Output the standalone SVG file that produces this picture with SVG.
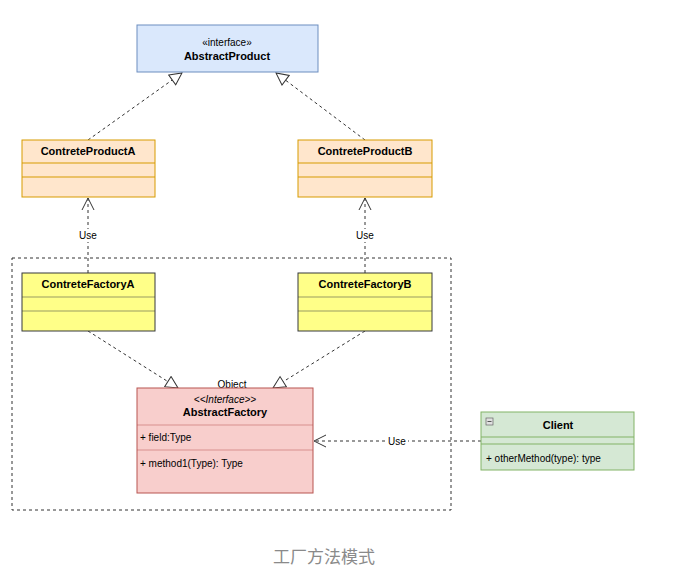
<svg xmlns="http://www.w3.org/2000/svg" width="677" height="576" viewBox="0 0 677 576">
<style>
text{font-family:"Liberation Sans",Arial,sans-serif;fill:#000}
.b{font-weight:bold;font-size:11px}
.s{font-size:10px}
.e{fill:none;stroke:#333;stroke-width:1;stroke-dasharray:3,3}
</style>
<defs>
<marker id="tri" markerWidth="14" markerHeight="14" refX="13" refY="7" orient="auto" markerUnits="userSpaceOnUse">
<path d="M1,1 L13,7 L1,13 Z" fill="#fff" stroke="#333" stroke-width="1"/>
</marker>
<marker id="open" markerWidth="14" markerHeight="14" refX="13" refY="7" orient="auto" markerUnits="userSpaceOnUse">
<path d="M1,1 L13,7 L1,13" fill="none" stroke="#333" stroke-width="1"/>
</marker>
</defs>
<rect width="677" height="576" fill="#fff"/>
<rect x="12" y="258" width="439" height="252" fill="none" stroke="#333" stroke-dasharray="3,3"/>
<g id="connectors">
<line class="e" x1="88" y1="140" x2="182" y2="73" marker-end="url(#tri)"/>
<line class="e" x1="365" y1="140" x2="276" y2="73" marker-end="url(#tri)"/>
<line class="e" x1="88" y1="331" x2="178" y2="388" marker-end="url(#tri)"/>
<line class="e" x1="365" y1="331" x2="273" y2="388" marker-end="url(#tri)"/>
<line class="e" x1="88" y1="273" x2="88" y2="198" marker-end="url(#open)"/>
<line class="e" x1="365" y1="273" x2="365" y2="198" marker-end="url(#open)"/>
<line class="e" x1="481" y1="441" x2="314" y2="441" marker-end="url(#open)"/>
<rect x="77" y="229" width="22" height="13" fill="#fff"/>
<text class="s" x="88" y="239" text-anchor="middle">Use</text>
<rect x="354" y="229" width="22" height="13" fill="#fff"/>
<text class="s" x="365" y="239" text-anchor="middle">Use</text>
<rect x="386" y="435" width="22" height="13" fill="#fff"/>
<text class="s" x="397" y="445" text-anchor="middle">Use</text>
</g>
<g id="AbstractProduct">
<rect x="137" y="25" width="181" height="47" fill="#dae8fc" stroke="#6c8ebf"/>
<text class="s" x="227" y="46" text-anchor="middle">«interface»</text>
<text class="b" x="227" y="60" text-anchor="middle">AbstractProduct</text>
</g>
<g id="ContreteProductA">
<rect x="22" y="140" width="133" height="57" fill="#ffe6cc" stroke="#d79b00"/>
<line x1="22" y1="163" x2="155" y2="163" stroke="#d79b00"/>
<line x1="22" y1="177" x2="155" y2="177" stroke="#d79b00"/>
<text class="b" x="88" y="155" text-anchor="middle">ContreteProductA</text>
</g>
<g id="ContreteProductB">
<rect x="298" y="140" width="134" height="57" fill="#ffe6cc" stroke="#d79b00"/>
<line x1="298" y1="163" x2="432" y2="163" stroke="#d79b00"/>
<line x1="298" y1="177" x2="432" y2="177" stroke="#d79b00"/>
<text class="b" x="365" y="155" text-anchor="middle">ContreteProductB</text>
</g>
<g id="ContreteFactoryA">
<rect x="22" y="273" width="133" height="58" fill="#ffff88" stroke="#36393d"/>
<line x1="22" y1="297" x2="155" y2="297" stroke="#36393d" stroke-opacity="0.5"/>
<line x1="22" y1="311" x2="155" y2="311" stroke="#36393d" stroke-opacity="0.5"/>
<text class="b" x="88" y="288" text-anchor="middle">ContreteFactoryA</text>
</g>
<g id="ContreteFactoryB">
<rect x="298" y="273" width="134" height="58" fill="#ffff88" stroke="#36393d"/>
<line x1="298" y1="297" x2="432" y2="297" stroke="#36393d" stroke-opacity="0.5"/>
<line x1="298" y1="311" x2="432" y2="311" stroke="#36393d" stroke-opacity="0.5"/>
<text class="b" x="365" y="288" text-anchor="middle">ContreteFactoryB</text>
</g>
<g id="AbstractFactory">
<text class="s" x="232" y="388" text-anchor="middle">Object</text>
<rect x="137" y="388" width="176" height="105" fill="#f8cecc" stroke="#b85450"/>
<line x1="137" y1="425" x2="313" y2="425" stroke="#b85450" stroke-opacity="0.5"/>
<line x1="137" y1="450" x2="313" y2="450" stroke="#b85450" stroke-opacity="0.5"/>
<text class="s" x="225" y="403" text-anchor="middle" font-style="italic">&lt;&lt;Interface&gt;&gt;</text>
<text class="b" x="225" y="416" text-anchor="middle">AbstractFactory</text>
<text class="s" x="140" y="441">+ field:Type</text>
<text class="s" x="140" y="467">+ method1(Type): Type</text>
</g>
<g id="Client">
<rect x="481" y="412" width="153" height="58" fill="#d5e8d4" stroke="#82b366"/>
<line x1="481" y1="437" x2="634" y2="437" stroke="#82b366"/>
<line x1="481" y1="444" x2="634" y2="444" stroke="#82b366"/>
<rect x="486" y="418" width="7" height="7" fill="#e0e0e0" stroke="#666" stroke-width="0.7"/>
<line x1="487.5" y1="421.5" x2="491.5" y2="421.5" stroke="#333" stroke-width="0.8"/>
<text class="b" x="558" y="429" text-anchor="middle">Client</text>
<text class="s" x="486" y="462">+ otherMethod(type): type</text>
</g>
<text x="324" y="563" text-anchor="middle" font-size="17" style="fill:#8a8a8a;font-family:'Liberation Sans','Noto Sans CJK SC',sans-serif">工厂方法模式</text>
</svg>
